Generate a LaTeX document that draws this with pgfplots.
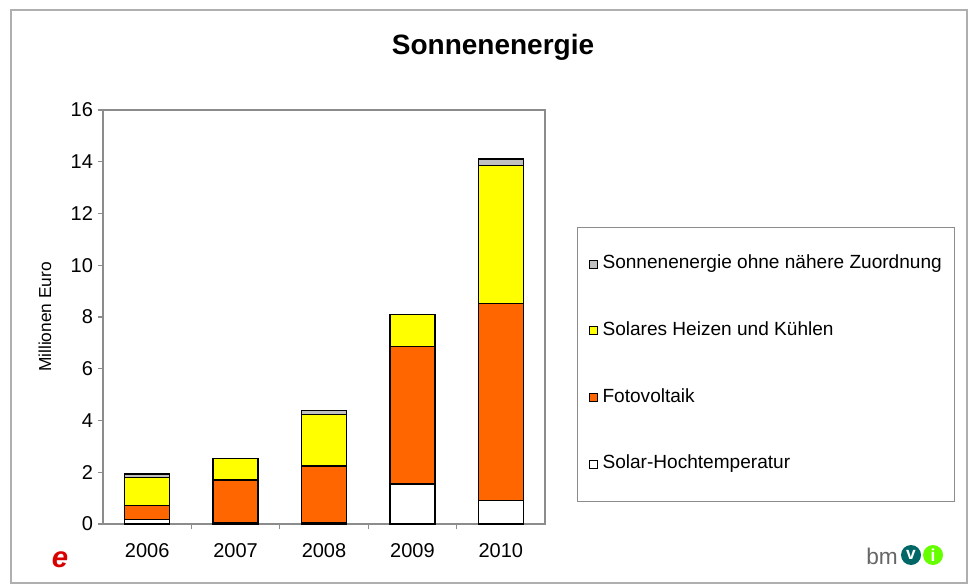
\documentclass[border=0pt]{standalone}
\usepackage{fontspec}
\setmainfont{Liberation Sans}
\usepackage{pgfplots}
\pgfplotsset{compat=1.18}
\definecolor{orangeF}{RGB}{255,102,0}
\definecolor{yellowF}{RGB}{255,255,0}
\definecolor{grayF}{RGB}{192,192,192}
\definecolor{frameG}{RGB}{175,175,175}
\definecolor{axisG}{RGB}{140,140,140}
\pgfplotsset{sqleg/.style={legend image code/.code={\draw[##1, draw=black, line width=0.6pt] (0pt,-3pt) rectangle (6pt,3pt);}}}
\begin{document}
\begin{tikzpicture}[x=0.75pt,y=0.75pt]
\useasboundingbox (0,0) rectangle (970,586);
\draw[frameG, line width=1pt] (11,3) rectangle (967,576);
\node[font=\fontsize{21}{24}\selectfont\bfseries] at (493,539) {Sonnenenergie};
\node[rotate=90, font=\fontsize{13}{15}\selectfont] at (45,269) {Millionen Euro};
\node[text=red!85!black, font=\fontsize{22}{24}\selectfont\bfseries\itshape] at (60,26) {e};
\node[text=gray!80!black, font=\fontsize{17}{20}\selectfont] at (882,30) {bm};
\fill[teal!80!black] (911,31) circle (7.5pt);
\node[text=white, font=\fontsize{13}{14}\selectfont\bfseries] at (911,31) {v};
\fill[green!60!yellow] (933,31) circle (7.5pt);
\node[text=white, font=\fontsize{13}{14}\selectfont\bfseries] at (933,31) {i};
\begin{axis}[
  at={(77.25pt,46.5pt)}, anchor=south west,
  scale only axis, width=331.5pt, height=310.5pt,
  ybar stacked, bar width=33.75pt,
  ymin=0, ymax=16, ytick={0,2,...,16},
  xmin=-0.5, xmax=4.5, xtick={0,...,4},
  xticklabels={2006,2007,2008,2009,2010},
  minor xtick={0.5,1.5,2.5,3.5},
  axis line style={axisG, line width=0.8pt},
  tick align=outside, tick pos=left,
  major tick length=4pt, minor tick length=4pt,
  tick style={axisG, line width=0.8pt},
  major x tick style={draw=none},
  minor x tick style={draw=axisG, line width=0.8pt},
  /pgf/number format/assume math mode=true,
  yticklabel style={font=\fontsize{15}{18}\selectfont},
  xticklabel style={font=\fontsize{15}{18}\selectfont, yshift=-7pt},
  legend style={at={(1.072,0.717)}, anchor=north west, draw=axisG,
    inner xsep=9pt, inner ysep=21pt, row sep=37pt, column sep=3.5pt,
    font=\fontsize{14.3}{16}\selectfont,
    nodes={inner sep=0pt, text height=10pt, text depth=3pt}},
  legend cell align=left,
  reverse legend,
]
\addplot[fill=white, draw=black, line width=1pt, sqleg] coordinates {(0,0.17) (1,0.06) (2,0.06) (3,1.54) (4,0.90)};
\addplot[fill=orangeF, draw=black, line width=1pt, sqleg] coordinates {(0,0.54) (1,1.64) (2,2.18) (3,5.31) (4,7.62)};
\addplot[fill=yellowF, draw=black, line width=1pt, sqleg] coordinates {(0,1.09) (1,0.84) (2,1.98) (3,1.25) (4,5.34)};
\addplot[fill=grayF, draw=black, line width=1pt, sqleg] coordinates {(0,0.13) (1,0) (2,0.16) (3,0) (4,0.24)};
\legend{Solar-Hochtemperatur, Fotovoltaik, Solares Heizen und Kühlen, Sonnenenergie ohne nähere Zuordnung}
\end{axis}
\end{tikzpicture}
\end{document}
